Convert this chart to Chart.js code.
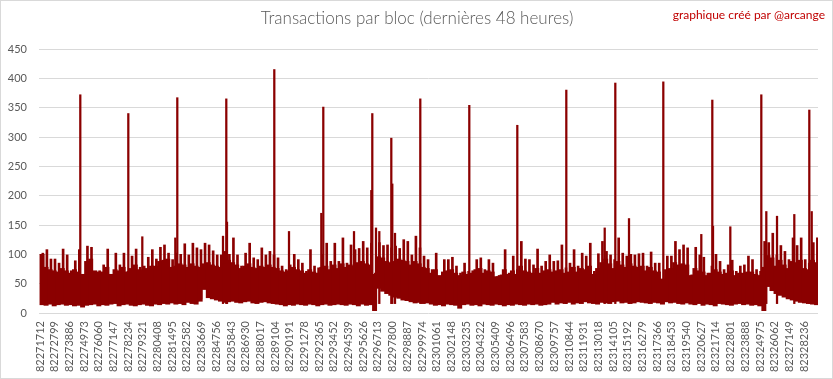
<!DOCTYPE html>
<html>
<head>
<meta charset="utf-8">
<script src="https://cdn.jsdelivr.net/npm/chart.js@4"></script>
<style>
  body { margin: 0; background: #fff; }
</style>
</head>
<body>
<canvas id="blocks" width="833" height="379"></canvas>
<script>
// numéros de bloc affichés sous l'axe
const blockLabels = [
    82271712, 82272799, 82273886, 82274973, 82276060, 82277147, 82278234, 82279321,
    82280408, 82281495, 82282582, 82283669, 82284756, 82285843, 82286930, 82288017,
    82289104, 82290191, 82291278, 82292365, 82293452, 82294539, 82295626, 82296713,
    82297800, 82298887, 82299974, 82301061, 82302148, 82303235, 82304322, 82305409,
    82306496, 82307583, 82308670, 82309757, 82310844, 82311931, 82313018, 82314105,
    82315192, 82316279, 82317366, 82318453, 82319540, 82320627, 82321714, 82322801,
    82323888, 82324975, 82326062, 82327149, 82328236
];

// tranches de 300 blocs à partir du premier bloc
const binFirstBlock = 82271712;
const binBlocks = 300;

// minimum de transactions par tranche
const binLow = [
    14,13,15,12,14,15,13,14,12,13,10,13,14,15,12,14,13,15,16,12,14,15,13,12,14,15,13,12,15,14,16,15,
    17,15,16,14,18,16,15,20,40,26,24,22,20,18,19,20,18,17,19,20,17,16,18,19,17,16,15,14,12,14,13,15,
    14,13,15,14,12,14,15,13,14,15,14,13,15,14,12,15,13,14,4,42,37,33,30,27,25,22,21,19,17,18,16,17,
    15,13,14,12,15,14,13,8,14,15,13,14,12,15,14,13,15,14,12,14,13,15,14,13,15,14,15,13,14,15,18,15,
    17,16,18,15,17,16,19,17,16,15,18,17,16,19,20,17,18,16,17,19,18,17,16,18,17,15,19,17,18,16,15,17,
    15,14,16,13,15,14,12,16,15,14,13,15,16,14,15,13,14,12,4,45,38,33,30,27,24,22,20,18,17,16,15,14
];

// niveau courant (masse des transactions) par tranche
const binBody = [
    100,78,74,72,70,76,72,68,74,70,66,88,92,72,70,70,78,66,74,72,78,70,76,82,74,72,76,80,80,88,90,92,
    78,80,84,82,78,84,80,78,84,86,82,80,78,84,90,86,82,76,80,84,78,76,80,78,82,78,76,72,70,72,78,74,
    72,68,74,70,68,78,80,74,82,76,84,78,82,80,86,88,84,82,66,96,94,88,86,88,92,90,88,82,88,84,78,76,
    68,74,64,70,72,74,68,64,70,66,68,74,76,68,72,70,62,64,74,66,72,66,80,72,70,68,76,68,72,74,70,72,
    74,68,70,78,70,76,74,80,66,76,86,92,84,76,88,82,78,84,80,78,80,72,78,72,70,58,74,76,86,82,84,82,
    64,76,72,70,64,68,74,70,66,68,72,64,68,68,70,70,66,64,78,98,94,80,90,82,76,88,86,90,76,74,90,86
];

// maximum par tranche
const binPeak = [
    102,108,92,92,85,109,99,72,89,108,64,114,112,68,72,82,109,61,102,82,102,71,97,109,78,80,95,108,92,112,116,102,
    91,102,100,118,99,119,111,108,119,116,106,99,99,105,100,128,99,80,102,119,94,91,111,99,105,99,94,80,74,82,100,91,
    85,71,108,80,77,100,119,88,119,88,128,85,116,108,110,122,111,119,68,120,115,116,111,114,110,125,122,99,131,111,97,91,
    74,102,62,91,91,95,80,68,85,71,72,91,94,74,91,85,62,65,108,68,97,74,122,92,91,82,109,80,88,99,88,89,
    116,77,85,108,80,102,97,119,71,101,122,105,99,91,128,102,97,100,99,101,102,80,104,85,85,55,97,97,122,108,116,111,
    65,112,99,95,68,80,100,88,74,82,90,71,80,82,97,91,74,71,122,120,136,99,115,105,91,128,115,128,91,85,120,128
];

// blocs isolés très chargés
const spikeBlocks = [
    82274693, 82278245, 82279280, 82281722, 82281869, 82285250, 82285494, 82285546,
    82289045, 82290133, 82292523, 82292670, 82294942, 82296221, 82296295, 82296569,
    82296814, 82297701, 82297775, 82297975, 82299846, 82303471, 82307023, 82310648,
    82313489, 82314273, 82315286, 82317824, 82320635, 82321449, 82321501, 82322781,
    82325074, 82325444, 82326236, 82327515, 82328625, 82328803
];
const spikeValues = [
    372, 340, 130, 128, 367, 131, 365, 155,
    415, 139, 170, 351, 139, 209, 340, 145,
    139, 298, 220, 136, 365, 354, 320, 380,
    145, 392, 161, 394, 134, 363, 148, 147,
    372, 173, 165, 168, 346, 173
];

const chartTitle = 'Transactions par bloc (dernières 48 heures)';
const chartCredit = 'graphique créé par @arcange';

(function() {
    const red = '#8b0000';
    const grey = '#595959';
    const binCenter = i => binFirstBlock + i * binBlocks + binBlocks / 2;

    const decor = {
        id: 'decor',
        beforeDraw(chart) {
            const ctx = chart.ctx;
            ctx.save();
            ctx.fillStyle = '#fff';
            ctx.fillRect(0, 0, chart.width, chart.height);
            ctx.strokeStyle = '#d9d9d9';
            ctx.lineWidth = 1;
            ctx.strokeRect(0.5, 0.5, chart.width - 1, chart.height - 1);
            ctx.restore();
        },
        afterDraw(chart) {
            const ctx = chart.ctx;
            ctx.save();
            ctx.textBaseline = 'middle';
            ctx.fillStyle = grey;
            ctx.textAlign = 'center';
            ctx.font = '300 17px Lato';
            ctx.fillText(chartTitle, 417, 19);
            ctx.fillStyle = '#c00000';
            ctx.textAlign = 'right';
            ctx.font = '12px Lato';
            ctx.fillText(chartCredit, chart.width - 8, 15);
            ctx.restore();
        }
    };

    new Chart(
        document.getElementById('blocks'),
        {
            type: 'bar',
            data: {
                datasets: [
                    {
                        label: 'Transactions',
                        data: binBody.map((v, i) => ({ x: binCenter(i), y: [binLow[i], v] })),
                        backgroundColor: red,
                        barThickness: 4.3,
                        grouped: false
                    },
                    {
                        label: 'Maximum',
                        data: binPeak.map((v, i) => ({ x: binCenter(i) + 60, y: [binLow[i] + 4, v] })),
                        backgroundColor: red,
                        barThickness: 2,
                        grouped: false
                    },
                    {
                        label: 'Pics',
                        data: spikeBlocks.map((b, i) => ({ x: b, y: [16, spikeValues[i]] })),
                        backgroundColor: red,
                        barThickness: 1.6,
                        grouped: false
                    }
                ]
            },
            options: {
                responsive: false,
                animation: false,
                devicePixelRatio: 1,
                layout: { padding: { top: 49, right: 15, left: 0, bottom: 0 } },
                plugins: {
                    legend: { display: false },
                    tooltip: { enabled: false }
                },
                scales: {
                    x: {
                        type: 'linear',
                        offset: false,
                        min: 82271638,
                        max: 82329268,
                        grid: { display: false, drawTicks: false, offset: false },
                        border: { display: false },
                        afterBuildTicks: scale => {
                            scale.ticks = blockLabels.map(v => ({ value: v }));
                        },
                        afterFit: scale => {
                            scale.height = 66;
                            scale.paddingLeft = 0;
                            scale.paddingRight = 0;
                        },
                        ticks: {
                            autoSkip: false,
                            minRotation: 90,
                            maxRotation: 90,
                            padding: 8,
                            color: grey,
                            font: { family: 'Lato', size: 11 },
                            callback: v => String(v)
                        }
                    },
                    y: {
                        min: 0,
                        max: 450,
                        afterFit: scale => {
                            scale.width = 39;
                            scale.paddingTop = 0;
                            scale.paddingBottom = 0;
                        },
                        grid: { color: '#d9d9d9', drawTicks: false },
                        border: { display: false },
                        ticks: {
                            stepSize: 50,
                            padding: 12,
                            color: grey,
                            font: { family: 'Lato', size: 11 }
                        }
                    }
                }
            },
            plugins: [decor]
        }
    );
})();
</script>
</body>
</html>
